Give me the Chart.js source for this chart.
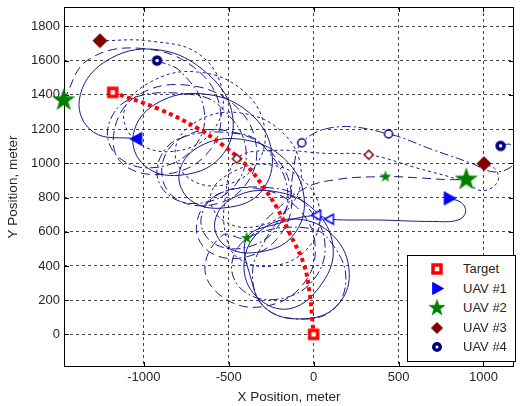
<!DOCTYPE html>
<html>
<head>
<meta charset="utf-8">
<script src="https://cdn.jsdelivr.net/npm/chart.js@4.4.1/dist/chart.umd.min.js"></script>
<style>
  body { margin: 0; background: #fff; }
  #wrap { position: relative; width: 521px; height: 406px; }
  #legend {
    position: absolute; left: 407px; top: 255px; width: 109px; height: 107px;
    box-sizing: border-box; border: 1px solid #000; background: #fff;
    font: 13px 'Liberation Sans', Arial, sans-serif; color: #262626;
  }
  .row { position: absolute; left: 0; width: 100%; height: 20px; line-height: 20px; }
  .row canvas { position: absolute; }
  .row span { position: absolute; left: 55px; }
</style>
</head>
<body>
<div id="wrap">
  <canvas id="chart" width="521" height="406"></canvas>
  <div id="legend"></div>
</div>
<script>
// axis ticks and legend text
const xTicks = [-1000, -500, 0, 500, 1000]
const yTicks = [0, 200, 400, 600, 800, 1000, 1200, 1400, 1600, 1800]
const legendLabels = ['Target', 'UAV #1', 'UAV #2', 'UAV #3', 'UAV #4']

// target track
const targetPath = [[-1183, 1415], [-910, 1317], [-678, 1201], [-522, 1096], [-388, 980], [-290, 853],
  [-214, 737], [-139, 586], [-58, 412], [-23, 238], [-6, 64], [0, 0]]

// UAV tracks (x, y in meter)
const uav1Path = [
  [-1043, 1143], [-1296, 1182], [-1380, 1370], [-1235, 1590], [-924, 1665], [-620, 1520], [-476, 1270], [-552, 1032],
  [-790, 930], [-997, 988], [-1062, 1168], [-929, 1348], [-654, 1406], [-379, 1296], [-246, 1064], [-311, 832],
  [-520, 740], [-723, 783], [-792, 940], [-675, 1097], [-424, 1140], [-173, 1027], [-56, 800], [-125, 573],
  [-330, 480], [-519, 516], [-582, 658], [-471, 800], [-234, 836], [3, 728], [114, 514], [51, 300],
  [-140, 150], [-336, 220], [-410, 412], [-316, 604], [-100, 674], [116, 576], [210, 356], [130, 160], [-70, 90],
  [-280, 150], [-370, 330], [-394, 563], [-200, 650], [17, 696], [93, 673], [400, 668], [700, 660],
  [850, 668], [895, 715], [870, 770], [800, 795]
]
const uav2Path = [
  [-1472, 1369], [-1331, 1603], [-1014, 1672], [-697, 1555], [-548, 1304], [-631, 1053], [-882, 936], [-1133, 1005],
  [-1170, 1210], [-1036, 1397], [-754, 1458], [-472, 1345], [-338, 1106], [-406, 867], [-622, 754], [-838, 815],
  [-890, 1000], [-769, 1154], [-510, 1190], [-251, 1064], [-130, 820], [-201, 576], [-410, 450], [-619, 486],
  [-690, 640], [-584, 806], [-340, 854], [-96, 740], [10, 508], [-76, 276], [-300, 162], [-524, 210],
  [-640, 380], [-536, 579], [-394, 563], [-250, 700], [-60, 850], [133, 905], [423, 922], [620, 915],
  [780, 905], [899, 905]
]
const uav3Path = [
  [-1258, 1717], [-965, 1715], [-674, 1638], [-535, 1408], [-604, 1178], [-825, 1070], [-1046, 1130], [-1115, 1312],
  [-954, 1479], [-686, 1534], [-418, 1427], [-288, 1202], [-350, 977], [-550, 870], [-750, 925], [-812, 1098],
  [-670, 1255], [-428, 1294], [-186, 1183], [-74, 962], [-142, 741], [-340, 630], [-538, 669], [-606, 818],
  [-476, 950], [-264, 992], [-52, 894], [38, 696], [-40, 498], [-240, 400], [-440, 442], [-518, 584],
  [-520, 800], [-452, 1027], [-250, 1075], [75, 1058], [325, 1050], [600, 975], [887, 893], [990, 840],
  [1080, 885], [1075, 960], [1003, 998]
]
const uav4Path = [
  [-922, 1601], [-779, 1533], [-644, 1308], [-713, 1083], [-928, 976], [-1143, 1031], [-1212, 1204], [-1077, 1377],
  [-700, 1400], [-531, 1314], [-400, 1094], [-461, 874], [-660, 768], [-859, 818], [-920, 982], [-789, 1146],
  [-420, 1170], [-272, 1074], [-154, 848], [-216, 622], [-408, 506], [-600, 540], [-662, 684], [-544, 828],
  [-200, 850], [-50, 761], [66, 538], [-4, 315], [-208, 206], [-412, 253], [-482, 414], [-366, 575],
  [-20, 620], [116, 520], [190, 320], [110, 140], [-90, 90], [-290, 160], [-360, 360], [-280, 560],
  [-150, 760], [-120, 950], [-70, 1120], [133, 1212], [441, 1172], [700, 1080], [930, 1000], [1060, 950],
  [1170, 985], [1195, 1060], [1160, 1110], [1101, 1102]
]

// marker positions: big = start / end, mid = snapshots
const targetMarks = [[-1183, 1415], [0, 0]]
const uav1Big = [[-1043, 1143], [800, 795]]
const uav1Mid = [[17, 696], [93, 673]]
const uav2Big = [[-1472, 1369], [899, 905]]
const uav2Mid = [[-394, 563], [423, 922]]
const uav3Big = [[-1258, 1717], [1003, 998]]
const uav3Mid = [[-452, 1027], [325, 1050]]
const uav4Big = [[-922, 1601], [1101, 1102]]
const uav4Mid = [[-70, 1120], [441, 1172]]

const red = '#ff0000'
const blue = '#0000ff'
const green = '#008000'
const maroon = '#800000'
const navy = '#000080'
const trackColor = 'rgb(25,25,135)'
const textColor = '#262626'
const fontFamily = "'Liberation Sans', Arial, sans-serif"

function makeMarker (shape, size, stroke, fill, lw) {
  const c = document.createElement('canvas')
  const s = Math.ceil(size + lw + 4)
  c.width = s
  c.height = s
  const ctx = c.getContext('2d')
  const m = s / 2, r = size / 2
  ctx.beginPath()
  if (shape === 'square') {
    ctx.rect(m - r, m - r, size, size)
  } else if (shape === 'circle') {
    ctx.arc(m, m, r, 0, 2 * Math.PI)
  } else if (shape === 'diamond') {
    ctx.moveTo(m, m - r); ctx.lineTo(m + r, m); ctx.lineTo(m, m + r); ctx.lineTo(m - r, m)
  } else if (shape === 'right') {
    ctx.moveTo(m + r, m); ctx.lineTo(m - r * 0.8, m - r); ctx.lineTo(m - r * 0.8, m + r)
  } else if (shape === 'left') {
    ctx.moveTo(m - r, m); ctx.lineTo(m + r * 0.8, m - r); ctx.lineTo(m + r * 0.8, m + r)
  } else if (shape === 'star') {
    for (let i = 0; i < 10; i++) {
      const a = -Math.PI / 2 + i * Math.PI / 5
      const rr = i % 2 ? r * 0.4 : r
      ctx.lineTo(m + rr * Math.cos(a), m + rr * Math.sin(a))
    }
  }
  ctx.closePath()
  ctx.fillStyle = fill
  ctx.fill()
  if (lw) {
    ctx.lineWidth = lw
    ctx.strokeStyle = stroke
    ctx.stroke()
  }
  return c
}

function toPoints (path) {
  return path.map(p => ({ x: p[0], y: p[1] }))
}

function trackSet (path, color, width, dash, order) {
  return {
    data: toPoints(path),
    showLine: true,
    borderColor: color,
    borderWidth: width,
    borderDash: dash,
    pointRadius: 0,
    tension: 0.4,
    order: order
  }
}

function markSet (points, styles) {
  return {
    data: toPoints(points),
    showLine: false,
    pointStyle: styles,
    pointRadius: 6,
    clip: false,
    order: 0
  }
}

// box around the plot with inward ticks, like the original
const framePlugin = {
  id: 'frame',
  beforeDatasetsDraw (chart) {
    const { ctx, chartArea: a, scales } = chart
    ctx.save()
    ctx.strokeStyle = '#000'
    ctx.lineWidth = 1
    ctx.strokeRect(a.left + 0.5, a.top + 0.5, a.right - a.left - 1, a.bottom - a.top - 1)
    ctx.beginPath()
    xTicks.forEach(v => {
      const px = Math.round(scales.x.getPixelForValue(v)) + 0.5
      ctx.moveTo(px, a.bottom); ctx.lineTo(px, a.bottom - 5)
      ctx.moveTo(px, a.top); ctx.lineTo(px, a.top + 5)
    })
    yTicks.forEach(v => {
      const py = Math.round(scales.y.getPixelForValue(v)) + 0.5
      ctx.moveTo(a.left, py); ctx.lineTo(a.left + 5, py)
      ctx.moveTo(a.right, py); ctx.lineTo(a.right - 5, py)
    })
    ctx.stroke()
    ctx.restore()
  }
}

function axisOptions (min, max, ticks, title, isX) {
  return {
    type: 'linear',
    min: min,
    max: max,
    afterBuildTicks: scale => { scale.ticks = ticks.map(v => ({ value: v })) },
    afterFit: scale => {
      // fixed box sizes, and no extra room for overhanging labels
      if (isX) scale.height = 39
      else scale.width = 64
      scale.paddingTop = 0
      scale.paddingBottom = 0
      scale.paddingLeft = 0
      scale.paddingRight = 0
    },
    grid: { color: 'rgba(0,0,0,0.72)', lineWidth: 1, drawTicks: false },
    border: { display: false, dash: [3, 3] },
    ticks: {
      padding: isX ? 3 : 4,
      maxRotation: 0,
      color: textColor,
      font: { family: fontFamily, size: 13 },
      callback: v => String(v)
    },
    title: {
      display: true,
      text: title,
      color: textColor,
      font: { family: fontFamily, size: 13.5 },
      padding: isX ? { top: 0, bottom: 1 } : { top: 5, bottom: 0 }
    }
  }
}

function makeChart () {
  const left = makeMarker('left', 13, blue, blue, 1)
  const right = makeMarker('right', 13, blue, blue, 1)
  const datasets = [
    markSet(targetMarks, makeMarker('square', 8, red, '#fff', 3.5)),
    markSet(uav1Big, [left, right]),
    markSet(uav1Mid, makeMarker('left', 10, blue, '#fff', 1.5)),
    markSet(uav2Big, makeMarker('star', 23, green, green, 0.5)),
    markSet(uav2Mid, makeMarker('star', 11, green, green, 0.5)),
    markSet(uav3Big, makeMarker('diamond', 14, maroon, maroon, 1)),
    markSet(uav3Mid, makeMarker('diamond', 9, maroon, '#fff', 1.5)),
    markSet(uav4Big, makeMarker('circle', 7, navy, '#fff', 3.5)),
    markSet(uav4Mid, makeMarker('circle', 8, navy, '#fff', 1.5)),
    trackSet(targetPath, red, 4, [4, 3.5], 1),
    trackSet(uav1Path, trackColor, 1, [], 2),
    trackSet(uav2Path, trackColor, 1, [9, 5], 2),
    trackSet(uav3Path, trackColor, 1, [3, 3], 2),
    trackSet(uav4Path, trackColor, 1, [9, 3, 2, 3], 2)
  ]

  new Chart(document.getElementById('chart'), {
    type: 'scatter',
    data: { datasets: datasets },
    options: {
      responsive: false,
      animation: false,
      devicePixelRatio: 1,
      events: [],
      layout: { padding: { top: 4, right: 1, bottom: 0, left: 0 } },
      plugins: { legend: { display: false }, tooltip: { enabled: false } },
      scales: {
        x: axisOptions(-1470, 1180, xTicks, 'X Position, meter', true),
        y: axisOptions(-191, 1914, yTicks, 'Y Position, meter', false)
      }
    },
    plugins: [framePlugin]
  })
}

function makeLegend () {
  const icons = [
    makeMarker('square', 8, red, '#fff', 3.5),
    makeMarker('right', 12, blue, blue, 1),
    makeMarker('star', 17, green, green, 0.5),
    makeMarker('diamond', 11, maroon, maroon, 1),
    makeMarker('circle', 6.5, navy, '#fff', 3.5)
  ]
  const box = document.getElementById('legend')
  legendLabels.forEach((label, i) => {
    const row = document.createElement('div')
    row.className = 'row'
    row.style.top = (3 + i * 19.6) + 'px'
    const icon = icons[i]
    icon.style.left = (29 - icon.width / 2) + 'px'
    icon.style.top = (10 - icon.height / 2) + 'px'
    row.appendChild(icon)
    const text = document.createElement('span')
    text.textContent = label
    row.appendChild(text)
    box.appendChild(row)
  })
}

makeChart()
makeLegend()
</script>
</body>
</html>
